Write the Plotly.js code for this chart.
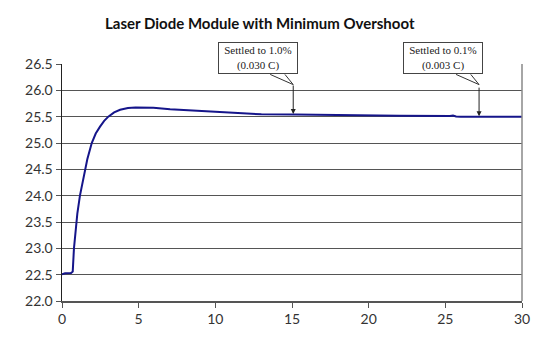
<!DOCTYPE html>
<html>
<head>
<meta charset="utf-8">
<script src="https://cdn.plot.ly/plotly-3.0.1.min.js"></script>
<style>html,body{margin:0;padding:0;background:#fff}#chart{width:552px;height:343px}</style>
</head>
<body>
<div id="chart"></div>
<script>
var timeS = [0, 0.2, 0.59, 0.7, 0.78, 0.9, 1.0, 1.17, 1.39, 1.65, 1.94, 2.2, 2.48, 2.75, 3.02, 3.4, 3.79, 4.3, 4.8, 5.96, 7.05, 8.3, 9.66, 11.6, 13, 15.2, 17.5, 18.8, 22, 25.3, 25.5, 25.7, 26, 30];
var tempC = [22.507, 22.526, 22.53, 22.56, 23.0, 23.4, 23.66, 24.0, 24.3, 24.69, 25.0, 25.18, 25.31, 25.42, 25.5, 25.58, 25.63, 25.665, 25.675, 25.67, 25.64, 25.62, 25.6, 25.565, 25.545, 25.54, 25.53, 25.52, 25.518, 25.515, 25.522, 25.505, 25.5, 25.5];
var yTicks = [22.0, 22.5, 23.0, 23.5, 24.0, 24.5, 25.0, 25.5, 26.0, 26.5];
var xTicks = [0, 5, 10, 15, 20, 25, 30];
var calloutText = ["Settled to 1.0%<br>(0.030 C)", "Settled to 0.1%<br>(0.003 C)"];
var calloutBoxX = [12.8, 24.87];
var calloutPointX = [15.08, 27.2];
var calloutPointY = [25.55, 25.51];

var trace = {
  x: timeS, y: tempC, type: 'scatter', mode: 'lines',
  line: {color: '#15158a', width: 2}, hoverinfo: 'skip'
};

var annotations = [];
var shapes = [];
for (var i = 0; i < calloutText.length; i++) {
  annotations.push({
    x: calloutBoxX[i], y: 1.025, xref: 'x', yref: 'paper',
    xanchor: 'center', yanchor: 'middle',
    text: calloutText[i], showarrow: false,
    font: {family: 'Liberation Serif, serif', size: 11, color: '#222'},
    bgcolor: '#ffffff', bordercolor: '#444', borderwidth: 1,
    borderpad: 2, width: 74, height: 26, align: 'center'
  });
  annotations.push({
    x: calloutPointX[i], y: calloutPointY[i], xref: 'x', yref: 'y',
    text: '', showarrow: true, ax: 0, ay: -30,
    arrowhead: 2, arrowsize: 1, arrowwidth: 1, arrowcolor: '#222'
  });
  var px = (calloutPointX[i] / 30);
  shapes.push({type: 'path', xref: 'paper', yref: 'paper',
    path: 'M ' + (px - 0.05) + ',0.956 L ' + px + ',0.913 L ' + (px - 0.018) + ',0.956',
    line: {color: '#333', width: 1}});
}
shapes.push({type: 'line', xref: 'paper', yref: 'paper', x0: 1, x1: 1, y0: 0, y1: 1,
  line: {color: '#888', width: 1.5}});

var layout = {
  width: 552, height: 343,
  margin: {l: 62, r: 30, t: 64, b: 42},
  paper_bgcolor: '#fff', plot_bgcolor: '#fff',
  showlegend: false,
  title: {text: '<b>Laser Diode Module with Minimum Overshoot</b>',
    font: {family: 'Lato, sans-serif', size: 15, color: '#111'},
    x: 0.43, xref: 'paper', xanchor: 'center', y: 0.932, yanchor: 'middle'},
  xaxis: {range: [0, 30], tickvals: xTicks, ticktext: xTicks.map(String),
    showgrid: false, zeroline: false, showline: true, linecolor: '#555', linewidth: 1.5,
    ticks: 'outside', ticklen: 5, tickcolor: '#555', tickwidth: 1,
    tickfont: {family: 'Lato, sans-serif', size: 14, color: '#333'}},
  yaxis: {range: [22, 26.5], tickvals: yTicks, ticktext: yTicks.map(function(v){return v.toFixed(1);}),
    showgrid: true, gridcolor: '#555', gridwidth: 1, zeroline: false,
    showline: true, linecolor: '#222', linewidth: 1.5,
    ticks: 'outside', ticklen: 5, tickcolor: '#555', tickwidth: 1,
    tickfont: {family: 'Lato, sans-serif', size: 14, color: '#333'}},
  annotations: annotations,
  shapes: shapes
};

Plotly.newPlot('chart', [trace], layout, {staticPlot: true, displayModeBar: false});
</script>
</body>
</html>
